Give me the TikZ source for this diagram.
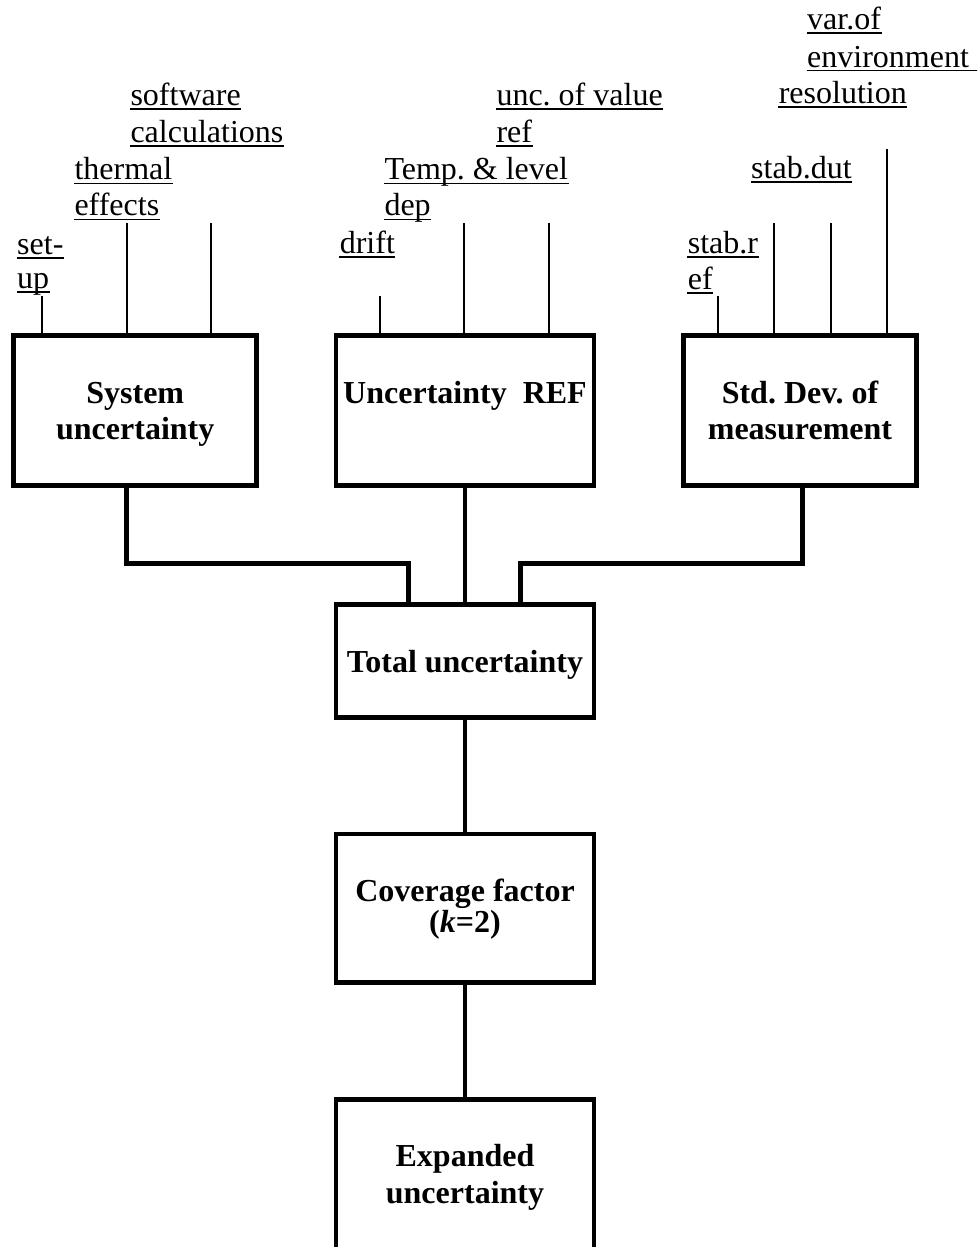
\documentclass[tikz,border=0pt]{standalone}
\usepackage{fontspec}
\setmainfont{Liberation Serif}
\frenchspacing
\newcommand\ulab[4]{%
  \node[lbl] (#1) at (#2,#3) {#4};
  \draw[uline] ([yshift=-1.31pt]#1.base west) -- ([yshift=-1.31pt]#1.base east);}
\begin{document}
\begin{tikzpicture}[x=0.375pt,y=-0.375pt,
  box/.style={draw, line width=1.75pt, rectangle, inner sep=0pt},
  conn/.style={line width=1.75pt},
  inp/.style={line width=0.75pt},
  lbl/.style={anchor=base west, inner sep=0pt, font=\fontsize{12pt}{14pt}\selectfont\frenchspacing},
  btxt/.style={anchor=base, inner sep=0pt, font=\fontsize{12pt}{14pt}\selectfont\bfseries\frenchspacing},
  uline/.style={line width=0.6pt}]
\useasboundingbox (0,0) rectangle (977,1247);
\clip (0,0) rectangle (977,1247);

% boxes
\node[box, minimum width=91.09pt, minimum height=56.25pt] (sys) at (135.25,410.7) {};
\node[box, minimum width=96.75pt, minimum height=56.25pt] (ref) at (465,410.7) {};
\node[box, minimum width=87.53pt, minimum height=56.25pt] (std) at (800,410.7) {};
\node[box, minimum width=96.75pt, minimum height=42.3pt] (tot) at (465,661.1) {};
\node[box, minimum width=96.75pt, minimum height=55.69pt] (cov) at (465,908.25) {};
\node[box, minimum width=96.75pt, minimum height=75.1pt] (exp) at (465,1199.85) {};

% box texts
\node[btxt] (sysA) at (135.25,403.3) {System};
\node[btxt] (sysB) at (135.25,439.3) {uncertainty};
\node[btxt] (refA) at (465,403.3) {Uncertainty\ \ REF};
\node[btxt] (stdA) at (800,403.3) {Std. Dev. of};
\node[btxt] (stdB) at (800,439.3) {measurement};
\node[btxt] (totA) at (465,672.7) {Total uncertainty};
\node[btxt] (covA) at (465,901.7) {Coverage factor};
\node[btxt] (covB) at (465,932.7) {(\textit{k}=2)};
\node[btxt] (expA) at (465,1166.7) {Expanded};
\node[btxt] (expB) at (465,1203.3) {uncertainty};

% thick connectors
\coordinate (jL) at (126.7,563.7);
\coordinate (jR) at (802.7,563.7);
\coordinate (iL) at (408.7,563.7);
\coordinate (iR) at (520.3,563.7);
\draw[conn] (jL |- sys.south) -- (jL) -| (iL |- tot.north);
\draw[conn] (ref.south) -- (tot.north);
\draw[conn] (jR |- std.south) -- (jR) -| (iR |- tot.north);
\draw[conn] (tot.south) -- (cov.north);
\draw[conn] (cov.south) -- (exp.north);

% thin input lines
\coordinate (s1) at (42.3,296);
\coordinate (s2) at (126.7,223.3);
\coordinate (s3) at (211,223.3);
\coordinate (r1) at (380,296);
\coordinate (r2) at (464.3,223.3);
\coordinate (r3) at (548.7,223.3);
\coordinate (d1) at (718,296);
\coordinate (d2) at (774,223.3);
\coordinate (d3) at (831,223.3);
\coordinate (d4) at (887,149.3);
\foreach \c/\b in {s1/sys,s2/sys,s3/sys,r1/ref,r2/ref,r3/ref,d1/std,d2/std,d3/std,d4/std}
  \draw[inp] (\c) -- (\c |- \b.north);

% underlined labels
\ulab{la}{16.7}{254.2}{set-}
\ulab{lb}{16.7}{288.2}{up}
\ulab{lc}{74}{179.8}{thermal}
\ulab{ld}{74}{215.8}{effects}
\ulab{le}{130}{105.8}{software}
\ulab{lf}{130}{142.5}{calculations}
\ulab{lg}{339.3}{253.2}{drift}
\ulab{lh}{384}{179.8}{Temp. \& level}
\ulab{li}{384}{215.8}{dep}
\ulab{lj}{496}{105.8}{unc. of value}
\ulab{lk}{496}{142.5}{ref}
\ulab{ll}{687.3}{253.2}{stab.r}
\ulab{lm}{687.3}{289.2}{ef}
\ulab{ln}{750.7}{178.2}{stab.dut}
\ulab{lo}{778.3}{103.8}{resolution}
\ulab{lp}{806.7}{29.8}{var.of}
\ulab{lq}{806.7}{67.2}{environment\kern0.25em}
\end{tikzpicture}
\end{document}
